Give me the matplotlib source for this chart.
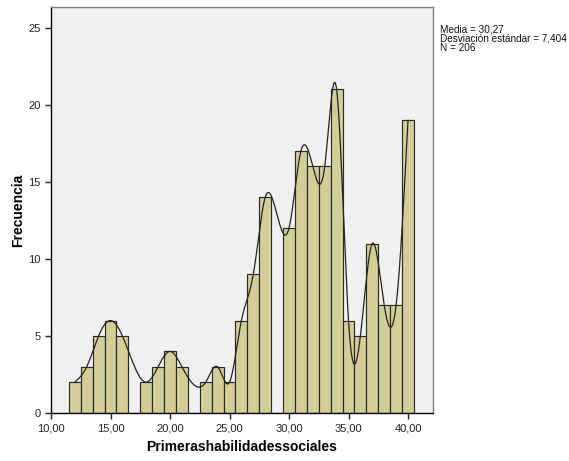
import numpy as np
import matplotlib
matplotlib.use("Agg")
import matplotlib.pyplot as plt

plt.rcParams['font.family'] = ['Liberation Sans', 'DejaVu Sans']

# Data: value (bin centre) and frequency
valores = [12, 13, 14, 15, 16, 17, 18, 19, 20, 21, 22, 23, 24, 25, 26, 27, 28, 29,
           30, 31, 32, 33, 34, 35, 36, 37, 38, 39, 40]
frecuencias = [2, 3, 5, 6, 5, 0, 2, 3, 4, 3, 0, 2, 3, 2, 6, 9, 14, 0,
               12, 17, 16, 16, 21, 6, 5, 11, 7, 7, 19]
x_ticks = [10, 15, 20, 25, 30, 35, 40]
x_ticklabels = ["10,00", "15,00", "20,00", "25,00", "30,00", "35,00", "40,00"]
y_ticks = [0, 5, 10, 15, 20, 25]
stats_text = "Media = 30,27\nDesviación estándar = 7,404\nN = 206"


def natural_cubic_spline(x, y, xs):
    x = np.asarray(x, float)
    y = np.asarray(y, float)
    n = len(x)
    h = np.diff(x)
    A = np.zeros((n, n))
    b = np.zeros(n)
    A[0, 0] = 1
    A[-1, -1] = 1
    for i in range(1, n - 1):
        A[i, i - 1] = h[i - 1]
        A[i, i] = 2 * (h[i - 1] + h[i])
        A[i, i + 1] = h[i]
        b[i] = 3 * ((y[i + 1] - y[i]) / h[i] - (y[i] - y[i - 1]) / h[i - 1])
    c = np.linalg.solve(A, b)
    out = np.empty_like(xs)
    idx = np.clip(np.searchsorted(x, xs) - 1, 0, n - 2)
    for k, (xi, i) in enumerate(zip(xs, idx)):
        bi = (y[i + 1] - y[i]) / h[i] - h[i] * (2 * c[i] + c[i + 1]) / 3
        di = (c[i + 1] - c[i]) / (3 * h[i])
        dx = xi - x[i]
        out[k] = y[i] + bi * dx + c[i] * dx ** 2 + di * dx ** 3
    return out


fig = plt.figure(figsize=(5.69, 4.61), dpi=100)
ax = fig.add_axes([51 / 569, 48 / 461, (433 - 51) / 569, (413 - 7) / 461])
ax.set_facecolor('#F0F0F0')

ax.bar(valores, frecuencias, width=1.0, color='#D3CE97', edgecolor='#2a2a2a',
       linewidth=0.85, zorder=2)

vx = [v for v, f in zip(valores, frecuencias) if f > 0]
vy = [f for f in frecuencias if f > 0]
xs = np.linspace(vx[0], vx[-1], 800)
ax.plot(xs, natural_cubic_spline(vx, vy, xs), color='#222222', lw=0.9, zorder=3)

ax.set_xlim(10, 42.1)
ax.set_ylim(0, 26.35)
ax.set_xticks(x_ticks)
ax.set_xticklabels(x_ticklabels)
ax.set_yticks(y_ticks)
ax.tick_params(axis='both', labelsize=8, colors='#222222', length=4, width=1,
               direction='out')
for s in ['left', 'bottom']:
    ax.spines[s].set_color('#000000')
    ax.spines[s].set_linewidth(1)
for s in ['top', 'right']:
    ax.spines[s].set_color('#808080')
    ax.spines[s].set_linewidth(1)

ax.set_xlabel('Primerashabilidadessociales', fontsize=10, fontweight='bold', labelpad=5)
ax.set_ylabel('Frecuencia', fontsize=10, fontweight='bold', labelpad=2)

fig.text(440 / 569, 1 - 24 / 461, stats_text, fontsize=7.2, va='top', ha='left',
         linespacing=0.95, color='#111111')

fig.savefig('out.png', dpi=100)
